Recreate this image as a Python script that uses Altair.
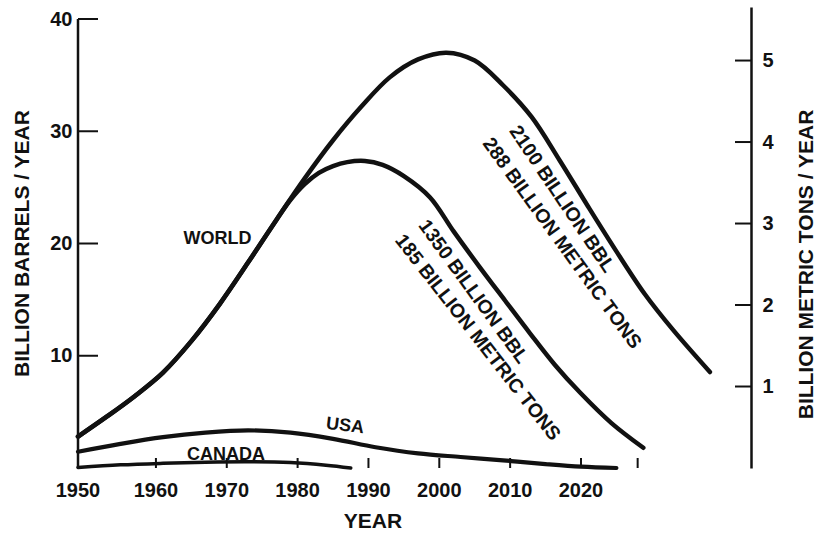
import altair as alt
import pandas as pd

# Oil production, billion barrels per year
world_high_years = [1949, 1953, 1957, 1961, 1965, 1969, 1973, 1977, 1981, 1985, 1989,
                    1993, 1997, 2001, 2005, 2009, 2013, 2017, 2021, 2025, 2029, 2033, 2038.2]
world_high_bbl = [2.8, 4.55, 6.4, 8.5, 11.3, 14.6, 18.3, 22.1, 25.8, 29.2, 32.2,
                  34.8, 36.4, 37.0, 36.3, 34.1, 31.3, 27.4, 23.3, 19.3, 15.5, 12.3, 8.55]

world_low_years = [1949, 1953, 1957, 1961, 1965, 1969, 1973, 1977, 1979, 1981, 1983, 1985,
                   1987, 1989.5, 1992, 1995, 1998.7, 2002, 2005.7, 2009.3, 2012.8, 2016.3,
                   2019.9, 2024.3, 2028.8]
world_low_bbl = [2.8, 4.55, 6.4, 8.5, 11.3, 14.6, 18.3, 22.1, 23.9, 25.3, 26.3, 26.9,
                 27.25, 27.35, 27.0, 26.0, 24.1, 21.1, 17.9, 14.9, 12.0, 9.2,
                 6.7, 4.0, 1.8]

usa_years = [1949, 1955, 1961, 1967, 1973, 1979, 1985, 1991, 1997, 2003, 2009, 2015, 2020, 2025]
usa_bbl = [1.45, 2.15, 2.75, 3.15, 3.35, 3.15, 2.6, 1.85, 1.3, 0.98, 0.68, 0.35, 0.12, 0.0]

canada_years = [1949, 1955, 1961, 1967, 1973, 1979, 1984, 1987.5]
canada_bbl = [0.05, 0.28, 0.42, 0.52, 0.56, 0.48, 0.25, 0.0]

# Axis marks
year_labels = [1950, 1960, 1970, 1980, 1990, 2000, 2010, 2020]
year_ticks = [1960, 1970, 1980, 1990, 2000, 2010, 2020, 2028]
bbl_ticks = [10, 20, 30, 40]
ton_ticks = [1, 2, 3, 4, 5]

BBL_PER_TON = 7.26
X_DOMAIN = [1949, 2044]
Y_TOP = 41.07

PLOT_W, PLOT_H = 673, 461
INK = "#111111"
FONT = "Liberation Sans"
WEIGHT = "bold"


def series(name, years, values, width):
    return pd.DataFrame({"year": years, "bbl": values, "series": name, "width": width})


curves = pd.concat([
    series("world_2100", world_high_years, world_high_bbl, 4.5),
    series("world_1350", world_low_years, world_low_bbl, 4.5),
    series("usa", usa_years, usa_bbl, 4.2),
    series("canada", canada_years, canada_bbl, 3.5),
])

notes = pd.DataFrame([
    {"year": 1968.7, "bbl": 20.4, "text": "WORLD", "angle": 0, "size": 18},
    {"year": 1986.7, "bbl": 3.74, "text": "USA", "angle": 7, "size": 18},
    {"year": 1969.9, "bbl": 1.2, "text": "CANADA", "angle": 0, "size": 18},
    {"year": 2017.3, "bbl": 23.96, "text": "2100 BILLION BBL", "angle": 56, "size": 19.5},
    {"year": 2017.3, "bbl": 20.02, "text": "288 BILLION METRIC TONS", "angle": 54, "size": 19.5},
    {"year": 2004.8, "bbl": 15.7, "text": "1350 BILLION BBL", "angle": 54, "size": 19.5},
    {"year": 2005.4, "bbl": 11.63, "text": "185 BILLION METRIC TONS", "angle": 52, "size": 19.5},
])

# year labels under the axis; the first one sits at the corner of the frame
year_label_table = pd.DataFrame({
    "pos": [X_DOMAIN[0]] + year_labels[1:],
    "text": [str(y) for y in year_labels],
})


def x_scale():
    return alt.Scale(domain=X_DOMAIN, nice=False, zero=False)


def bbl_scale():
    return alt.Scale(domain=[0, Y_TOP], nice=False, zero=True)


ton_scale = alt.Scale(domain=[0, Y_TOP / BBL_PER_TON], nice=False, zero=True)

x_axis = alt.Axis(orient="bottom", labels=False, title=None)

left_axis = alt.Axis(
    orient="left",
    values=bbl_ticks,
    domain=False,
    labelPadding=6,
    labelFlush=False,
    title="BILLION BARRELS / YEAR",
    titleAngle=270,
    titleX=-50,
    titleY=236,
    titleAlign="center",
    titleBaseline="alphabetic",
)

right_axis = alt.Axis(
    orient="right",
    values=ton_ticks,
    labelPadding=11,
    labelFlush=False,
    title="BILLION METRIC TONS / YEAR",
    titleAngle=270,
    titleX=61,
    titleY=257,
    titleAlign="center",
    titleBaseline="alphabetic",
)

lines = alt.Chart(curves).mark_line(
    interpolate="catmull-rom", color=INK, strokeCap="round", strokeJoin="round"
).encode(
    x=alt.X("year:Q", scale=x_scale(), axis=None),
    y=alt.Y("bbl:Q", scale=bbl_scale(), axis=left_axis),
    detail="series:N",
    strokeWidth=alt.StrokeWidth("width:Q", scale=None),
)

labels = alt.Chart(notes).mark_text(
    font=FONT, fontWeight=WEIGHT, color=INK, align="center", baseline="middle"
).encode(
    x=alt.X("year:Q", scale=x_scale(), axis=None),
    y=alt.Y("bbl:Q", scale=bbl_scale(), axis=None),
    text="text:N",
    angle=alt.Angle("angle:Q", scale=None),
    size=alt.Size("size:Q", scale=None),
)

year_text = alt.Chart(year_label_table).mark_text(
    font=FONT, fontWeight=WEIGHT, color=INK, fontSize=20, align="center", baseline="alphabetic"
).encode(
    x=alt.X("pos:Q", scale=x_scale(), axis=None),
    y=alt.value(PLOT_H + 29),
    text="text:N",
)

x_title = alt.Chart(pd.DataFrame({"t": ["YEAR"]})).mark_text(
    font=FONT, fontWeight=WEIGHT, color=INK, fontSize=21, align="center", baseline="alphabetic"
).encode(
    x=alt.value(295),
    y=alt.value(PLOT_H + 60),
    text="t:N",
)

# left axis line runs from 0 to 40 only
left_spine = alt.Chart(pd.DataFrame({"lo": [0], "hi": [40]})).mark_rule(
    color=INK, strokeWidth=2.5
).encode(
    x=alt.value(0),
    y=alt.Y("lo:Q", scale=bbl_scale(), axis=None),
    y2="hi:Q",
)

left_ticks = alt.Chart(pd.DataFrame({"bbl": bbl_ticks})).mark_rule(
    color=INK, strokeWidth=2
).encode(
    x=alt.value(0),
    x2=alt.value(20),
    y=alt.Y("bbl:Q", scale=bbl_scale(), axis=None),
)

bottom_ticks = alt.Chart(pd.DataFrame({"year": year_ticks})).mark_rule(
    color=INK, strokeWidth=2
).encode(
    x=alt.X("year:Q", scale=x_scale(), axis=x_axis),
    y=alt.value(PLOT_H - 10),
    y2=alt.value(PLOT_H),
)

tons = alt.Chart(pd.DataFrame({"tons": ton_ticks})).mark_rule(
    color=INK, strokeWidth=2
).encode(
    x=alt.value(PLOT_W - 16),
    x2=alt.value(PLOT_W),
    y=alt.Y("tons:Q", scale=ton_scale, axis=right_axis),
)

chart = alt.layer(
    bottom_ticks, lines, left_spine, left_ticks, labels, year_text, x_title, tons
).resolve_scale(y="independent").properties(
    width=PLOT_W,
    height=PLOT_H,
    padding={"left": 78, "top": 7, "right": 66, "bottom": 67},
    autosize=alt.AutoSizeParams(type="none"),
    background="white",
).configure_view(
    stroke=None
).configure_axis(
    grid=False,
    ticks=False,
    tickSize=0,
    domainColor=INK,
    domainWidth=2.5,
    labelFont=FONT,
    labelFontSize=20,
    labelFontWeight=WEIGHT,
    labelColor=INK,
    titleFont=FONT,
    titleFontSize=21,
    titleFontWeight=WEIGHT,
    titleColor=INK,
)

chart.save("out.html", embed_options={"renderer": "svg", "actions": False})
